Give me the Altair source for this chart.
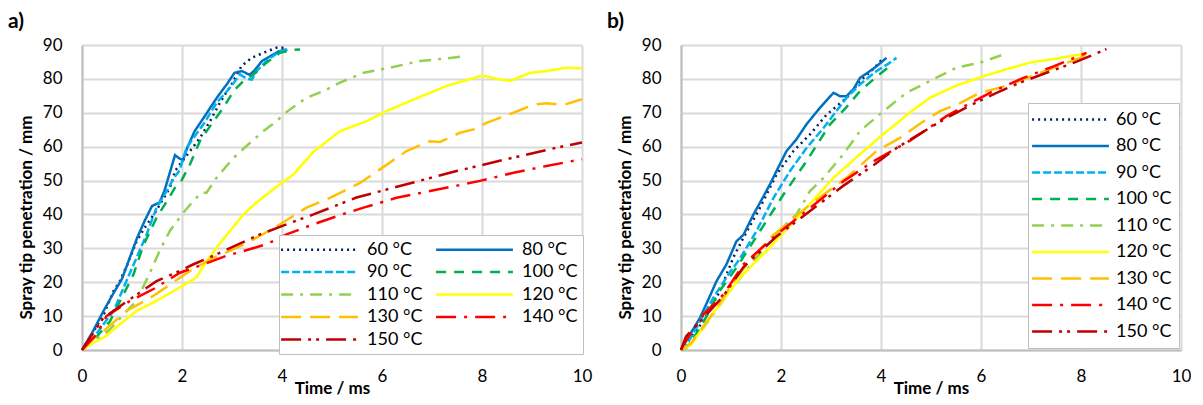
import altair as alt
import pandas as pd

LABELS = ["60 °C", "80 °C", "90 °C", "100 °C", "110 °C", "120 °C", "130 °C", "140 °C", "150 °C"]
COLORS = ["#002060", "#0070C0", "#00B0F0", "#00B050", "#92D050", "#FFFF00", "#FFC000", "#FF0000", "#C00000"]
DASHES = [[2, 4], [1, 0], [8, 3], [10, 8], [12, 7, 3, 7], [1, 0], [20, 9], [20, 8, 3, 8], [20, 7, 3, 5, 3, 7]]

# ---------------- panel a) ----------------
A60_T = [0, 0.26, 0.45, 0.63, 0.76, 0.9, 1.09, 1.25, 1.46, 1.6, 1.76, 1.86, 1.96, 2.15, 2.36, 2.56, 2.76, 2.99, 3.19, 3.39, 3.63, 3.89, 4.1]
A60_Y = [0, 6.2, 11, 17.4, 20.4, 25, 32, 36, 40.5, 44, 47.9, 52.8, 54.8, 58.5, 62.6, 67.5, 73, 78.4, 83.8, 86.2, 87.7, 89.2, 89.2]
A80_T = [0, 0.2, 0.43, 0.6, 0.8, 1.0, 1.1, 1.25, 1.4, 1.55, 1.65, 1.76, 1.86, 1.95, 2.02, 2.1, 2.25, 2.5, 2.7, 2.9, 3.05, 3.2, 3.35, 3.45, 3.6, 3.8, 3.95, 4.1]
A80_Y = [0, 5, 11.5, 16, 21, 29, 33, 38, 42.5, 43.5, 47, 52.5, 57.5, 56.5, 56, 59.5, 64.5, 70, 74.5, 78.5, 81.8, 82.3, 81.2, 82.5, 85.3, 87, 88.2, 88.7]
A90_T = [0, 0.2, 0.43, 0.63, 0.89, 1.09, 1.29, 1.49, 1.69, 1.83, 1.95, 2.09, 2.25, 2.43, 2.69, 2.96, 3.16, 3.3, 3.4, 3.49, 3.69, 3.96, 4.16]
A90_Y = [0, 3, 7.6, 11.5, 20.4, 27.2, 34, 42, 46.8, 50.6, 53, 59.6, 63, 66.6, 72.9, 77.4, 81.3, 80, 79.8, 82.3, 85.3, 88.2, 88.7]
A100_T = [0, 0.3, 0.56, 0.76, 1.03, 1.23, 1.49, 1.7, 1.86, 1.99, 2.16, 2.36, 2.63, 2.83, 3.03, 3.23, 3.43, 3.69, 3.96, 4.2, 4.36]
A100_Y = [0, 4, 8.5, 14.4, 22.3, 31, 39, 44, 47.9, 50, 54.8, 61.7, 67.5, 71.5, 76.4, 79.4, 81.3, 84.8, 87.7, 88.5, 88.7]
A110_T = [0, 0.3, 0.56, 0.83, 1.09, 1.36, 1.56, 1.76, 2.03, 2.23, 2.39, 2.49, 2.69, 3.03, 3.29, 3.63, 3.89, 4.03, 4.16, 4.49, 4.83, 5.16, 5.63, 6.16, 6.76, 7.29, 7.63]
A110_Y = [0, 3, 6.1, 10.5, 14.5, 22.8, 29.5, 35.2, 40.6, 44, 46.4, 46.4, 50.8, 56.7, 60.2, 64.6, 67.5, 69.5, 71, 74.4, 76.4, 78.9, 81.8, 83.3, 85.3, 86, 86.7]
A120_T = [0, 0.16, 0.43, 0.76, 1.09, 1.49, 1.96, 2.29, 2.43, 2.69, 2.96, 3.23, 3.49, 3.7, 3.96, 4.23, 4.45, 4.63, 5.16, 5.69, 6.09, 6.63, 6.96, 7.29, 7.96, 8.09, 8.3, 8.56, 8.96, 9.29, 9.69, 10]
A120_Y = [0, 1.7, 3.6, 7.6, 11.5, 14.5, 18.5, 21.4, 24.8, 30.2, 35.1, 40, 43.5, 46, 48.9, 51.8, 55.5, 58.5, 64.6, 67.5, 70.5, 73.9, 75.9, 77.9, 80.8, 80.8, 80, 79.4, 81.8, 82.3, 83.3, 83.1]
A130_T = [0, 0.2, 0.43, 0.89, 1.43, 1.96, 2.16, 2.56, 3.23, 3.6, 3.96, 4.49, 4.96, 5.56, 5.96, 6.49, 6.96, 7.16, 7.56, 7.83, 8.09, 8.63, 9.03, 9.29, 9.63, 10]
A130_Y = [0, 3, 5.6, 11.5, 16, 21.3, 23.3, 26.7, 31.1, 34, 37.1, 42, 44.9, 49.3, 53.3, 58.7, 61.6, 61.4, 64.1, 65.1, 67, 70, 72.4, 72.8, 72.3, 74]
A140_T = [0, 0.29, 0.49, 0.96, 1.43, 1.96, 2.43, 2.89, 3.3, 3.69, 4.09, 4.63, 5.2, 5.63, 6.29, 6.96, 7.5, 7.96, 8.63, 9.29, 10]
A140_Y = [0, 4.6, 10, 14.5, 18, 22.8, 25.3, 27.8, 29.5, 31.2, 34.1, 37.1, 40, 42, 44.9, 46.9, 48.5, 49.9, 52.3, 54.3, 56.3]
A150_T = [0, 0.16, 0.43, 0.96, 1.49, 1.9, 2.23, 2.63, 3.1, 3.56, 4.09, 4.63, 5.49, 6.49, 7.49, 8.49, 9.49, 10]
A150_Y = [0, 3.6, 9.5, 15, 20.3, 23, 25.3, 27.8, 31, 34.1, 37.1, 40, 45, 48.9, 52.8, 56.3, 59.7, 61.2]

# ---------------- panel b) ----------------
B60_T = [0, 0.2, 0.45, 0.78, 1.05, 1.25, 1.58, 1.91, 2.25, 2.58, 2.91, 3.31, 3.58, 3.85, 4.05]
B60_Y = [0, 4, 8.5, 17.4, 27.4, 33.2, 42, 51.8, 58.7, 63.6, 69.4, 74.4, 79.3, 83, 86.2]
B80_T = [0, 0.18, 0.38, 0.55, 0.71, 0.91, 1.11, 1.25, 1.45, 1.6, 1.78, 1.95, 2.11, 2.3, 2.51, 2.78, 3.05, 3.18, 3.31, 3.45, 3.58, 3.75, 3.91, 4.11]
B80_Y = [0, 4.6, 9.5, 15, 20.3, 25.3, 32.1, 34, 40, 44, 48.9, 54, 58.7, 62, 66.6, 71.5, 75.9, 74.9, 74.9, 77, 80.3, 82, 83.7, 86.2]
B90_T = [0, 0.15, 0.31, 0.65, 0.98, 1.18, 1.51, 1.85, 2.18, 2.51, 2.85, 3.05, 3.31, 3.58, 3.91, 4.15, 4.31]
B90_Y = [0, 2.5, 6.6, 15.5, 23, 27, 35.1, 44.9, 52.8, 59.6, 65.5, 69.4, 74.4, 78.4, 82.3, 84.5, 86.2]
B100_T = [0, 0.11, 0.31, 0.51, 0.75, 1.11, 1.58, 2.05, 2.51, 2.98, 3.3, 3.58, 3.9, 4.25]
B100_Y = [0, 0.7, 4.9, 9.9, 17, 24.3, 35.1, 45.9, 55.7, 66.6, 71.5, 76.4, 80.5, 84.7]
B110_T = [0, 0.11, 0.45, 0.98, 1.45, 1.91, 2.31, 2.58, 2.85, 3.25, 3.58, 4.05, 4.51, 4.98, 5.51, 5.98, 6.45]
B110_Y = [0, 0.7, 6.6, 17.4, 26.2, 34.5, 40, 46.9, 50.8, 57.8, 64.6, 70.5, 75.9, 79.4, 83.3, 84.8, 87.2]
B120_T = [0, 0.2, 0.6, 1.18, 1.78, 2.45, 3.05, 3.58, 4.05, 4.58, 4.98, 5.5, 6.05, 6.5, 6.98, 7.5, 7.98, 8.11]
B120_Y = [0, 1.5, 10, 21.4, 30.3, 41, 50.8, 57.8, 63.7, 70.1, 74.4, 78, 80.8, 82.8, 84.8, 86, 87.2, 87.7]
B130_T = [0, 0.2, 0.6, 1.11, 1.78, 2.58, 3.31, 3.91, 4.38, 4.8, 5.18, 5.6, 5.98, 6.4, 6.78, 7.4, 7.98, 8.11]
B130_Y = [0, 2, 10, 21.4, 33.1, 42.9, 50.8, 58.7, 62.6, 67, 70.5, 73, 75.9, 77.5, 79.4, 83, 86.2, 87.2]
B140_T = [0, 0.05, 0.45, 0.85, 1.25, 1.91, 2.58, 3.25, 3.85, 4.58, 5.31, 5.8, 6.18, 6.85, 7.45, 8.11]
B140_Y = [0, 1.6, 10.5, 16.4, 25.3, 34, 41.9, 49.8, 55.7, 61.8, 69, 73, 75.9, 80.3, 83.7, 87.7]
B150_T = [0, 0.1, 0.45, 0.85, 1.25, 1.91, 2.58, 3.25, 3.85, 4.31, 4.8, 5.31, 5.8, 6.31, 6.8, 7.31, 7.9, 8.51]
B150_Y = [0, 4, 9.5, 16, 24.5, 33.5, 41, 48.5, 54.5, 59.6, 64, 68.5, 72.3, 75.9, 79, 81.8, 85, 88.8]

SERIES_A = [(A60_T, A60_Y), (A80_T, A80_Y), (A90_T, A90_Y), (A100_T, A100_Y), (A110_T, A110_Y),
            (A120_T, A120_Y), (A130_T, A130_Y), (A140_T, A140_Y), (A150_T, A150_Y)]
SERIES_B = [(B60_T, B60_Y), (B80_T, B80_Y), (B90_T, B90_Y), (B100_T, B100_Y), (B110_T, B110_Y),
            (B120_T, B120_Y), (B130_T, B130_Y), (B140_T, B140_Y), (B150_T, B150_Y)]

FONT = "Lato"
# legend sample: a long horizontal stroke drawn as a custom symbol path
SYMBOL_PATH = "M-4.8,0H4.8"


def frame(series):
    rows = []
    for k, (ts, ys) in enumerate(series):
        for i, (t, y) in enumerate(zip(ts, ys)):
            rows.append({"temp": LABELS[k], "k": k, "t": t, "mm": y, "i": i})
    return pd.DataFrame(rows)


def panel(series, tag, legend_kw):
    df = frame(series)
    leg = alt.Legend(
        title=None, orient="none", symbolType=SYMBOL_PATH, symbolSize=256,
        symbolStrokeWidth=2.5, symbolOffset=26,
        labelFont=FONT, labelFontSize=18, labelColor="black",
        fillColor="white", strokeColor="#BFBFBF", **legend_kw,
    )
    x = alt.X("t:Q", scale=alt.Scale(domain=[0, 10], nice=False),
              axis=alt.Axis(values=[0, 2, 4, 6, 8, 10], format="d", title="Time / ms",
                            labelFlush=False, labelPadding=18, titleY=38,
                            titleBaseline="middle"))
    y = alt.Y("mm:Q", scale=alt.Scale(domain=[0, 90], nice=False),
              axis=alt.Axis(values=list(range(0, 91, 10)), title="Spray tip penetration / mm",
                            labelPadding=20, titleX=-56, titleY=172, titleBaseline="middle"))
    lines = alt.Chart(df).mark_line(strokeWidth=2.5).encode(
        x=x, y=y,
        color=alt.Color("temp:N", scale=alt.Scale(domain=LABELS, range=COLORS), legend=leg),
        strokeDash=alt.StrokeDash("temp:N", scale=alt.Scale(domain=LABELS, range=DASHES), legend=leg),
        order=alt.Order("i:Q"),
        detail="k:N",
    )
    label = alt.Chart(pd.DataFrame({"p": [0]})).mark_text(
        text=tag, align="left", baseline="middle", font=FONT, fontSize=21,
        fontWeight="bold", color="black",
    ).encode(x=alt.value(-74), y=alt.value(-23))
    return alt.layer(lines, label).properties(width=500, height=305)


pa = panel(SERIES_A, "a)", dict(legendX=197, legendY=190, columns=2, direction="horizontal",
                                padding=5, rowPadding=3.5, columnPadding=8, labelOffset=38))
pb = panel(SERIES_B, "b)", dict(legendX=347, legendY=58, columns=1, direction="vertical",
                                padding=7, rowPadding=7.5, labelOffset=36))

chart = alt.hconcat(pa, pb, spacing=99, bounds="flush").resolve_scale(
    color="independent", strokeDash="independent", x="independent", y="independent"
).resolve_legend(color="independent", strokeDash="independent").properties(
    padding={"left": 0, "top": 3, "right": 0, "bottom": 0}
).configure_view(stroke=None).configure_axis(
    labelFont=FONT, labelFontSize=17, labelColor="black", titleFont=FONT,
    titleFontSize=17, titleFontWeight="bold", titleColor="black",
    ticks=False, tickSize=0, domainColor="#BFBFBF", domainWidth=2,
    gridColor="#D9D9D9", gridWidth=2,
)

chart.save("out.html", embed_options={"renderer": "svg", "actions": False})
